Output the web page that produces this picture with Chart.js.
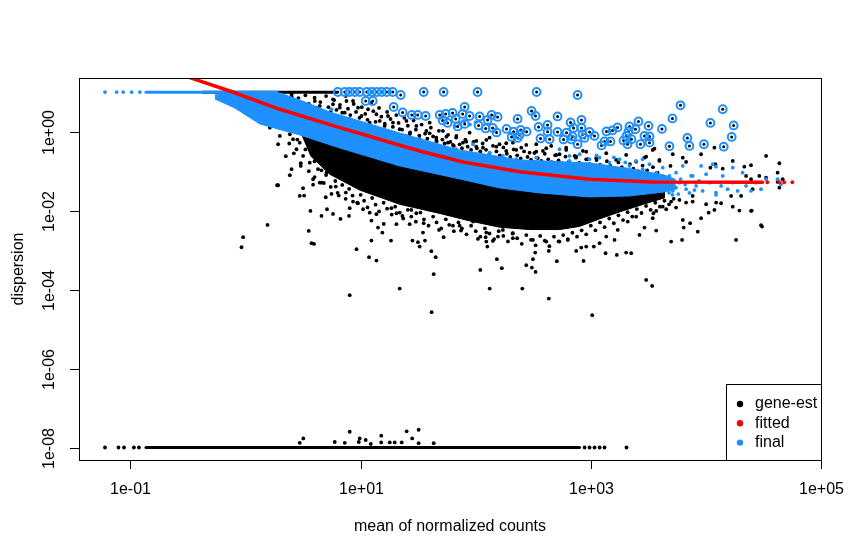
<!DOCTYPE html>
<html>
<head>
<meta charset="utf-8">
<title>Dispersion estimates</title>
<script src="https://cdn.jsdelivr.net/npm/chart.js@4/dist/chart.umd.min.js"></script>
<style>
  html, body { margin: 0; padding: 0; background: #fff; }
  #wrap { width: 861px; height: 559px; position: relative; }
</style>
</head>
<body>
<div id="wrap"><canvas id="chartDisp"></canvas></div>
<script>
// all values below are log10(mean of normalized counts), log10(dispersion)

// --- axes ---
const xTickValues = [0.1, 10, 1000, 100000];
const xTickLabels = ["1e-01", "1e+01", "1e+03", "1e+05"];
const yTickValues = [1e-8, 1e-6, 1e-4, 1e-2, 1];
const yTickLabels = ["1e-08", "1e-06", "1e-04", "1e-02", "1e+00"];
const xLimLog = [-1.447, 5.0];
const yLimLog = [-8.316, 1.359];

// --- fitted trend (red) ---
const fittedLine = [[-0.484,1.367],[-0.136,1.030],[0.298,0.567],[0.819,0.101],[1.010,-0.058],[1.311,-0.319],
  [1.513,-0.489],[1.889,-0.767],[2.381,-1.013],[2.988,-1.205],[3.536,-1.273],[4.491,-1.281]];
const fittedTail = [[4.534,-1.281],[4.638,-1.281],[4.681,-1.281],[4.751,-1.281]];

// --- final estimates (blue) ---
const finalCore = [[-0.266,0.929],[0.037,1.018],[0.298,0.980],[0.471,0.803],[0.732,0.499],[0.992,0.271],
  [1.339,-0.033],[1.860,-0.463],[2.381,-0.716],[2.988,-0.792],[3.336,-0.935],[3.639,-1.100],[3.73,-1.20],
  [3.73,-1.47],[3.639,-1.527],[3.336,-1.628],[2.988,-1.653],[2.555,-1.552],[2.207,-1.425],[1.860,-1.197],
  [1.339,-0.868],[0.819,-0.413],[0.471,-0.084],[0.124,0.195],[-0.093,0.600],[-0.266,0.828]];
const finalCapRun = [[-0.865,1.0],[0.272,1.0]];
const finalCapDots = [[-1.221,1.0],[-1.120,1.0],[-1.063,1.0],[-0.990,1.0],[-0.918,1.0]];
const finalSpeckle = [[2.728,-0.446],[2.815,-0.615],[2.902,-0.572],[2.988,-0.699],[3.075,-0.658],[3.162,-0.785],
  [3.249,-0.699],[3.336,-0.868],[3.394,-0.742],[3.451,-0.952],[3.510,-0.825],[3.568,-1.038],[3.625,-0.911],
  [3.683,-1.122],[3.741,-1.038],[3.770,-1.291],[3.828,-1.458],[3.871,-1.122],[3.915,-1.375],[3.958,-0.868],
  [3.972,-1.501],[4.030,-1.291],[4.059,-0.825],[4.088,-1.544],[4.132,-1.375],[4.146,-1.122],[4.189,-1.458],
  [4.233,-1.291],[4.276,-1.501],[4.319,-1.038],[4.349,-1.375],[4.392,-1.501],[4.435,-1.291],[4.479,-1.458],
  [4.523,-1.205],[4.623,-1.205],[4.653,-1.332],[4.233,-0.911],[4.088,-0.886],[4.002,-1.078],[3.799,-0.868],
  [3.885,-1.122],[3.596,-1.205],[3.655,-1.418],[3.712,-1.501],[3.710,-1.603],[3.857,-1.552],[4.088,-1.603],
  [3.70,-1.30],[3.74,-1.42],[3.78,-1.20],[3.82,-1.34],[3.68,-1.55],[3.76,-1.58],[3.90,-1.48],[3.94,-1.25],
  [0.747,0.567],[0.804,0.314],[0.964,0.228],[1.108,0.061],[1.253,-0.025],[1.398,-0.109],[1.513,-0.278],
  [1.687,-0.362],[1.832,-0.446],[1.976,-0.319],[2.121,-0.532],[2.236,-0.615],[2.352,-0.699],[2.526,-0.658],
  [2.700,-0.785],[2.815,-0.742],[0.905,-0.109],[1.050,-0.192],[1.311,-0.235],[1.86,0.20],[1.90,0.26],
  [1.95,0.18],[2.00,0.24],[1.82,0.14],[3.05,-0.60],[3.20,-0.65],[3.30,-0.78],[3.45,-0.70]];

// --- dispersion outliers (gene-est kept, circled) ---
const outliers = [[0.801,1.005],[0.862,1.005],[0.905,1.005],[0.949,1.005],[0.992,1.005],[1.053,1.005],[1.096,1.005],
  [1.140,1.005],[1.183,1.005],[1.227,1.005],[1.279,1.005],[1.348,0.929],[1.548,1.005],[1.721,1.005],[2.016,1.005],
  [2.529,1.005],[2.885,0.929],[1.044,0.777],[1.105,0.777],[1.287,0.625],[1.365,0.486],[1.444,0.423],[1.496,0.423],
  [1.565,0.397],[1.687,0.423],[1.739,0.448],[1.799,0.473],[1.713,0.284],[1.756,0.220],[1.826,0.322],[1.904,0.625],
  [1.886,0.448],[1.947,0.397],[1.904,0.195],[1.843,0.132],[2.034,0.385],[2.103,0.296],[2.138,0.423],[2.190,0.372],
  [2.025,0.157],[2.086,0.081],[2.147,0.094],[2.181,-0.020],[2.268,0.068],[2.329,0.000],[2.364,0.322],[2.390,0.043],
  [2.381,-0.084],[2.442,0.000],[2.312,-0.134],[2.364,-0.159],[2.485,0.524],[2.520,0.397],[2.546,0.119],[2.624,0.170],
  [2.563,-0.172],[2.624,0.000],[2.711,0.385],[2.824,0.233],[2.919,0.296],[2.850,0.094],[2.919,0.094],[2.711,-0.008],
  [2.789,-0.025],[2.841,-0.122],[2.763,-0.197],[2.832,-0.197],[2.928,-0.071],[2.885,-0.319],[2.642,-0.192],
  [2.989,-0.008],[3.032,-0.109],[2.945,-0.159],[3.136,0.005],[3.188,0.030],[3.232,0.106],[3.119,-0.248],
  [3.171,-0.248],[3.093,-0.349],[3.336,0.132],[3.327,0.005],[3.388,0.061],[3.310,-0.109],[3.353,-0.192],
  [3.284,-0.223],[3.319,-0.319],[3.414,0.258],[3.501,0.144],[3.466,-0.109],[3.510,-0.122],[3.431,-0.319],
  [3.510,-0.278],[3.618,0.068],[3.709,0.334],[3.779,0.668],[3.683,-0.370],[3.839,-0.159],[3.857,-0.362],
  [3.983,-0.319],[4.039,0.220],[4.146,0.567],[4.241,0.157],[4.224,-0.134],[4.155,-0.380]];

// --- gene-wise estimates (black) ---
const geneCore = [[0.471,0.018],[0.819,-0.311],[1.339,-0.790],[1.860,-1.150],[2.207,-1.349],[2.555,-1.476],
  [2.988,-1.577],[3.336,-1.552],[3.639,-1.451],[3.639,-1.678],[3.466,-1.830],[3.249,-2.033],[3.075,-2.210],
  [2.902,-2.400],[2.728,-2.480],[2.468,-2.480],[2.207,-2.420],[1.947,-2.260],[1.686,-2.070],[1.339,-1.840],
  [0.992,-1.480],[0.732,-1.080],[0.560,-0.600]];
const geneCapRun = [[-0.371,1.0],[0.793,1.0]];
const geneFloorRun = [[-0.865,-8],[2.902,-8]];
const geneFloor = [[-1.221,-8],[-1.104,-8],[-1.056,-8],[-0.970,-8],[-0.926,-8],[2.946,-8],[2.989,-8],[3.032,-8],
  [3.076,-8],[3.119,-8],[3.310,-8],[0.471,-7.88],[0.502,-7.77],[0.775,-7.86],[0.862,-7.88],[0.905,-7.60],
  [0.992,-7.77],[0.984,-7.86],[1.044,-7.81],[1.088,-7.91],[1.179,-7.70],[1.179,-7.87],[1.253,-7.87],
  [1.296,-7.87],[1.357,-7.87],[1.400,-7.59],[1.448,-7.77],[1.504,-7.55],[1.504,-7.89],[1.635,-7.89]];
const geneLow = [[0.274,-1.357],[0.500,-1.433],[0.471,-1.628],[0.509,-1.620],[0.587,-1.342],[0.660,-1.291],
  [0.784,-1.392],[0.697,-1.661],[0.747,-1.577],[0.810,-1.620],[0.871,-1.544],[0.564,-2.008],[0.660,-2.134],
  [0.708,-1.965],[0.760,-2.084],[0.825,-2.210],[0.899,-2.134],[0.905,-1.939],[0.934,-1.772],[0.191,-2.362],
  [-0.021,-2.673],[-0.035,-2.927],[0.549,-2.514],[0.573,-2.825],[0.595,-2.843],[0.964,-2.977],[1.073,-3.180],
  [1.137,-3.266],[1.094,-2.759],[1.151,-2.430],[1.189,-2.557],[1.264,-2.759],[1.311,-2.344],[1.094,-2.253],
  [1.137,-2.091],[1.201,-2.337],[1.339,-3.975],[0.905,-4.142],[1.450,-2.759],[1.498,-2.800],[1.513,-2.911],
  [1.559,-2.759],[1.542,-2.557],[1.615,-3.028],[1.652,-3.180],[1.635,-3.610],[1.617,-4.572],[1.681,-2.489],
  [1.721,-2.673],[1.802,-2.380],[1.860,-2.380],[1.872,-2.506],[2.019,-2.716],[2.086,-2.673],[2.092,-2.785],
  [2.101,-2.911],[2.149,-2.767],[2.193,-2.658],[2.184,-3.230],[2.227,-3.458],[2.040,-3.501],[2.121,-3.975],
  [2.323,-2.699],[1.426,-2.344],[1.363,-2.134],[1.548,-2.319],[1.976,-2.278],[2.092,-2.557],[2.236,-2.489],
  [2.323,-2.572],[1.311,-2.066],[1.267,-1.939],[1.021,-1.965],[0.977,-1.813],[1.079,-2.051],[1.441,-1.982],
  [1.484,-2.066],[2.405,-3.975],[2.635,-4.228],[3.012,-4.648],[2.439,-3.382],[2.488,-3.443],[2.520,-3.552],
  [2.497,-3.230],[2.705,-3.281],[2.937,-3.273],[2.517,-3.063],[2.635,-3.020],[2.873,-3.020],[2.917,-2.937],
  [3.026,-2.911],[3.128,-3.078],[3.226,-3.122],[3.307,-3.063],[3.351,-3.078],[3.481,-3.754],[3.533,-3.906],
  [3.698,-2.785],[3.793,-2.742],[3.807,-2.430],[3.929,-2.532],[4.262,-2.742],[4.488,-2.405],[3.568,-2.506],
  [3.466,-2.430],[3.423,-2.615],[3.206,-2.742],[3.076,-2.825],[2.960,-2.911],[2.800,-2.742],[2.728,-2.785],
  [2.613,-2.785],[2.497,-2.742],[3.134,-2.658],[3.234,-2.489],[3.321,-2.278],[3.394,-2.152],[3.538,-2.192],
  [3.544,-2.066],[3.698,-1.772],[3.770,-1.729],[3.885,-1.772],[3.958,-2.192],[4.024,-2.051],[4.074,-1.982],
  [4.132,-1.813],[4.233,-1.899],[4.291,-2.000],[4.398,-2.000],[3.799,-2.235],[3.863,-2.319],[3.625,-1.899],
  [4.523,-0.615],[4.638,-0.800],[4.392,-0.851],[4.334,-0.886],[4.233,-0.742],[4.074,-0.405],[3.958,-0.572],
  [3.712,-0.572],[3.553,-0.430],[3.466,-0.658],[3.596,-0.742],[3.692,-0.868],[3.799,-0.658],[3.828,-0.767],
  [4.039,-0.911],[4.082,-0.825],[4.146,-0.937],[4.349,-1.122],[4.392,-1.205],[4.464,-1.122],[4.523,-1.165],
  [4.623,-1.038],[4.667,-1.205],[4.638,-1.418],[4.623,-1.273],[4.406,-1.458],[4.306,-1.628],[4.219,-1.628],
  [4.089,-1.797],[4.002,-1.838],[3.885,-1.628],[3.828,-1.797],[3.741,-1.924],[3.655,-1.965],[3.568,-2.008],
  [4.392,-2.008],[4.479,-2.370]];
// dense fringe just under the core
const geneFringe = [[0.38,-0.30],[0.42,-0.55],[0.45,-0.20],[0.48,-0.80],[0.52,-0.45],[0.55,-1.00],[0.60,-1.15],
  [0.63,-0.95],[0.68,-1.30],[0.70,-1.10],[0.74,-1.40],[0.78,-1.25],[0.80,-1.55],[0.84,-1.35],[0.87,-1.70],
  [0.90,-1.45],[0.93,-1.62],[0.97,-1.80],[1.00,-1.60],[1.03,-1.75],[1.06,-1.92],[1.10,-1.68],[1.13,-1.85],
  [1.16,-2.02],[1.20,-1.80],[1.23,-1.95],[1.27,-2.10],[1.30,-1.90],[1.34,-2.05],[1.37,-2.20],[1.41,-1.98],
  [1.44,-2.15],[1.48,-2.28],[1.52,-2.05],[1.55,-2.22],[1.59,-2.38],[1.63,-2.15],[1.66,-2.30],[1.70,-2.45],
  [1.74,-2.22],[1.77,-2.36],[1.81,-2.52],[1.85,-2.30],[1.88,-2.45],[1.92,-2.60],[1.96,-2.38],[2.00,-2.52],
  [2.04,-2.66],[2.08,-2.45],[2.12,-2.58],[2.16,-2.72],[2.20,-2.52],[2.24,-2.64],[2.28,-2.78],[2.32,-2.58],
  [2.36,-2.70],[2.40,-2.84],[2.44,-2.62],[2.48,-2.74],[2.52,-2.88],[2.56,-2.64],[2.60,-2.76],[2.64,-2.90],
  [2.68,-2.66],[2.72,-2.78],[2.76,-2.62],[2.80,-2.72],[2.84,-2.56],[2.88,-2.66],[2.92,-2.50],[2.96,-2.60],
  [3.00,-2.38],[3.04,-2.50],[3.08,-2.30],[3.12,-2.42],[3.16,-2.20],[3.20,-2.32],[3.24,-2.12],[3.28,-2.24],
  [3.32,-2.04],[3.36,-2.15],[3.40,-1.96],[3.44,-2.06],[3.48,-1.88],[3.52,-1.98],[3.56,-1.80],[3.60,-1.90],
  [3.64,-1.75],[3.68,-1.84],[3.72,-1.70],[0.60,-0.75],[0.66,-0.98],[0.72,-0.86],[0.40,-0.95],[0.35,-0.62]];
const geneHigh = [[0.211,0.101],[0.298,-0.109],[0.283,-0.319],[0.385,-0.066],[0.413,-0.192],[0.471,-0.278],
  [0.480,-0.868],[0.385,-1.104],[0.283,-1.357],[0.587,-0.109],[0.616,-0.532],[0.645,-0.699],[0.703,-1.038],
  [0.760,-0.868],[0.602,0.777],[0.645,0.651],[0.760,0.820],[0.182,0.904],[0.298,0.820],[0.443,0.734],
  [0.326,0.481],[0.413,0.397],[0.515,0.228],[0.717,0.314],[0.790,0.144],[0.558,-0.785],[0.500,-0.615],
  [0.443,-0.446],[0.587,-1.205],[0.645,-1.291],[0.703,-0.362],[0.790,-0.446],[0.760,-0.615],[0.255,0.800],
  [0.359,0.701],[0.402,0.878],[0.760,0.694],[0.819,0.608],[0.877,0.777],[0.934,0.777],[0.790,0.397],
  [0.862,0.481],[0.905,0.314],[0.977,0.608],[1.007,0.397],[1.064,0.567],[1.079,0.228],[1.137,0.441],
  [1.166,0.271],[1.209,0.144],[1.238,0.397],[1.281,0.228],[1.339,0.061],[1.398,0.271],[1.426,-0.066],
  [1.484,0.144],[1.513,-0.192],[1.571,0.018],[1.600,0.228],[1.658,-0.152],[1.715,0.018],[1.759,-0.278],
  [1.832,-0.109],[1.889,-0.278],[1.947,-0.025],[2.005,-0.235],[2.063,-0.405],[2.121,-0.152],[2.207,-0.319],
  [2.265,-0.489],[2.323,-0.278],[2.396,-0.405],[2.468,-0.532],[2.526,-0.319],[2.584,-0.489],[2.656,-0.362],
  [2.728,-0.572],[2.786,-0.405],[2.859,-0.615],[2.931,-0.489],[2.974,-0.699],[1.600,-0.041],[1.658,-0.210],
  [1.745,-0.127],[1.802,-0.337],[1.918,-0.253],[2.005,-0.380],[2.092,-0.210],[2.179,-0.380],[2.265,-0.294],
  [2.352,-0.463],[2.439,-0.337],[2.526,-0.506],[2.613,-0.420],[2.700,-0.590],[2.786,-0.463],[2.873,-0.633],
  [2.960,-0.506],[3.047,-0.673],[3.134,-0.547],[3.220,-0.716],[3.307,-0.590],[3.394,-0.759],[3.481,-0.633],
  [3.538,-0.463],[3.596,-0.716]];
// dense speckle just above the blue band
const geneAbove = [[0.40,0.95],[0.43,0.62],[0.46,0.85],[0.49,0.55],[0.52,0.92],[0.55,0.70],[0.57,0.48],[0.60,0.86],
  [0.62,0.60],[0.65,0.75],[0.67,0.42],[0.70,0.90],[0.72,0.62],[0.74,0.50],[0.77,0.80],[0.79,0.55],[0.82,0.68],
  [0.84,0.48],[0.87,0.90],[0.89,0.58],[0.91,0.42],[0.94,0.70],[0.96,0.50],[0.99,0.35],[1.01,0.62],[1.04,0.45],
  [1.06,0.30],[1.09,0.72],[1.11,0.52],[1.13,0.25],[1.16,0.60],[1.18,0.38],[1.21,0.20],[1.23,0.50],[1.26,0.32],
  [1.28,0.12],[1.31,0.42],[1.33,0.22],[1.36,0.05],[1.38,0.35],[1.41,0.15],[1.43,-0.02],[1.46,0.28],[1.48,0.05],
  [1.51,-0.10],[1.53,0.18],[1.56,-0.05],[1.58,-0.18],[1.61,0.10],[1.63,-0.12],[1.66,-0.24],[1.68,0.02],
  [1.71,-0.20],[1.73,-0.30],[1.76,-0.08],[1.78,-0.26],[1.81,-0.36],[1.83,-0.15],[1.86,-0.32],[1.88,-0.42],
  [1.91,-0.20],[1.93,-0.38],[1.96,-0.46],[1.98,-0.26],[2.01,-0.42],[2.04,-0.50],[2.06,-0.30],[2.09,-0.46],
  [2.12,-0.55],[2.15,-0.36],[2.18,-0.50],[2.21,-0.60],[2.24,-0.40],[2.27,-0.56],[2.30,-0.64],[2.33,-0.45],
  [2.36,-0.60],[2.39,-0.68],[2.42,-0.50],[2.45,-0.64],[2.48,-0.71],[2.51,-0.54],[2.54,-0.67],[2.57,-0.74],
  [2.60,-0.56],[2.63,-0.70],[2.66,-0.77],[2.69,-0.60],[2.72,-0.73],[2.75,-0.80],[2.78,-0.63],[2.81,-0.76],
  [2.84,-0.83],[2.87,-0.66],[2.90,-0.79],[2.93,-0.85],[2.96,-0.70],[2.99,-0.82],[3.02,-0.88],[3.05,-0.72],
  [3.08,-0.84],[3.11,-0.90],[3.14,-0.75],[3.17,-0.87],[3.20,-0.93],[3.24,-0.78],[3.27,-0.90],[3.30,-0.96],
  [3.34,-0.82],[3.37,-0.94],[3.41,-1.00],[3.45,-0.86],[3.49,-0.98],[3.54,-0.90],[3.58,-1.04]];

const legendLabels = ["gene-est", "fitted", "final"];
const legendColors = ["#000000", "#ff0000", "#1e90ff"];

const BLUE = "#1e90ff";
const FONT = "16px 'Liberation Sans', Arial, Helvetica, sans-serif";
const pts = arr => arr.map(([lx, ly]) => ({ x: Math.pow(10, lx), y: Math.pow(10, ly) }));

function polygon(data, color, order) {
    return { type: "line", data: pts(data), borderColor: color, backgroundColor: color, borderWidth: 1,
             pointRadius: 0, fill: "shape", order };
}
function run(data, color, width, order) {
    return { type: "line", data: pts(data), borderColor: color, borderWidth: width, pointRadius: 0,
             fill: false, order, borderCapStyle: "round" };
}
function dots(data, color, radius, order) {
    return { type: "scatter", data: pts(data), backgroundColor: color, borderWidth: 0,
             pointRadius: radius, order };
}

// R-like axes, box and legend
const rFrame = {
    id: "rFrame",
    afterDraw(chart) {
        const { ctx, chartArea: a, scales: { x, y } } = chart;
        ctx.save();
        ctx.strokeStyle = "#000";
        ctx.lineWidth = 1;
        ctx.strokeRect(a.left + 0.5, a.top + 0.5, a.right - a.left, a.bottom - a.top);

        ctx.fillStyle = "#000";
        ctx.font = FONT;
        ctx.textAlign = "center";
        ctx.textBaseline = "middle";
        ctx.beginPath();
        xTickValues.forEach((v, i) => {
            const px = Math.round(x.getPixelForValue(v)) + 0.5;
            ctx.moveTo(px, a.bottom); ctx.lineTo(px, a.bottom + 9);
            ctx.fillText(xTickLabels[i], px, a.bottom + 30);
        });
        yTickValues.forEach((v, i) => {
            const py = Math.round(y.getPixelForValue(v)) + 0.5;
            ctx.moveTo(a.left, py); ctx.lineTo(a.left - 9, py);
            ctx.save();
            ctx.translate(a.left - 29, py);
            ctx.rotate(-Math.PI / 2);
            ctx.fillText(yTickLabels[i], 0, 0);
            ctx.restore();
        });
        ctx.stroke();

        ctx.fillText("mean of normalized counts", (a.left + a.right) / 2, a.bottom + 67);
        ctx.save();
        ctx.translate(19, (a.top + a.bottom) / 2);
        ctx.rotate(-Math.PI / 2);
        ctx.fillText("dispersion", 0, 0);
        ctx.restore();

        // legend
        const lw = 95, lh = 76;
        const lx = a.right - lw, ly = a.bottom - lh;
        ctx.fillStyle = "#fff";
        ctx.fillRect(lx, ly, lw, lh);
        ctx.strokeRect(lx + 0.5, ly + 0.5, lw, lh);
        ctx.textAlign = "left";
        legendLabels.forEach((lab, i) => {
            const cy = ly + 20 + i * 19.3;
            ctx.fillStyle = legendColors[i];
            ctx.beginPath();
            ctx.arc(lx + 14, cy, 3.2, 0, Math.PI * 2);
            ctx.fill();
            ctx.fillStyle = "#000";
            ctx.fillText(lab, lx + 29, cy);
        });
        ctx.restore();
    }
};

new Chart(document.getElementById("chartDisp"), {
    type: "scatter",
    data: {
        datasets: [
            run(fittedLine, "#ff0000", 3.5, 0),
            dots(fittedTail, "#ff0000", 1.9, 0),
            { type: "scatter", data: pts(outliers), backgroundColor: "transparent", borderColor: BLUE,
              borderWidth: 2, pointRadius: 3.9, order: 1 },
            dots(outliers, "#000", 1.5, 2),
            dots(finalSpeckle, BLUE, 1.9, 3),
            dots(finalCapDots, BLUE, 1.8, 3),
            run(finalCapRun, BLUE, 3, 3),
            polygon(finalCore, BLUE, 4),
            dots(geneHigh, "#000", 1.9, 5),
            dots(geneAbove, "#000", 1.9, 5),
            dots(geneLow, "#000", 1.9, 5),
            dots(geneFringe, "#000", 1.9, 5),
            dots(geneFloor, "#000", 1.9, 5),
            run(geneCapRun, "#000", 3, 5),
            run(geneFloorRun, "#000", 3, 5),
            polygon(geneCore, "#000", 6)
        ]
    },
    options: {
        responsive: true,
        maintainAspectRatio: false,
        animation: false,
        layout: { padding: { left: 79, right: 40, top: 78, bottom: 99 } },
        plugins: { legend: { display: false }, tooltip: { enabled: false } },
        scales: {
            x: { type: "logarithmic", display: false,
                 min: Math.pow(10, xLimLog[0]), max: Math.pow(10, xLimLog[1]) },
            y: { type: "logarithmic", display: false,
                 min: Math.pow(10, yLimLog[0]), max: Math.pow(10, yLimLog[1]) }
        }
    },
    plugins: [rFrame]
});
</script>
</body>
</html>
